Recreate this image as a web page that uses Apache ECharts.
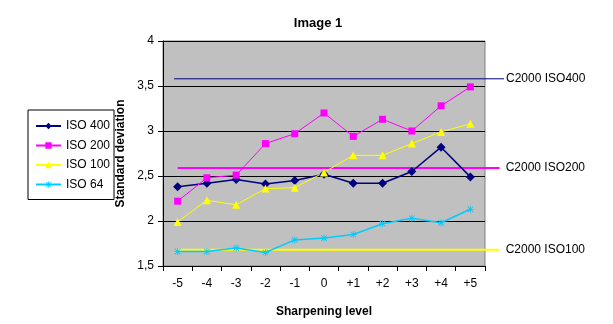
<!DOCTYPE html>
<html><head><meta charset="utf-8">
<script src="https://cdn.jsdelivr.net/npm/echarts@6/dist/echarts.min.js"></script>
<style>html,body{margin:0;padding:0;background:#fff}#c{width:613px;height:324px}</style>
</head><body><div id="c"></div>
<script>
var categories = ['-5','-4','-3','-2','-1','0','+1','+2','+3','+4','+5'];
var iso400 = [2.38,2.42,2.46,2.41,2.45,2.52,2.42,2.42,2.55,2.82,2.49];
var iso200 = [2.22,2.48,2.51,2.86,2.97,3.20,2.94,3.13,3.00,3.28,3.49];
var iso100 = [1.99,2.23,2.18,2.36,2.37,2.54,2.73,2.73,2.86,2.99,3.08];
var iso64  = [1.66,1.66,1.70,1.65,1.79,1.81,1.85,1.97,2.03,1.98,2.13];
var refNames = ['C2000 ISO400','C2000 ISO200','C2000 ISO100'];
var refValues = [3.58, 2.59, 1.68];
var yTicks = [1.5,2,2.5,3,3.5,4];

var font = 'Liberation Sans, Arial, sans-serif';
var chart = echarts.init(document.getElementById('c'));
var refColors = ['#000080','#ff00ff','#ffff00'];
var refWidths = [1,2,2];
var refStart = [-0.12, 0.0, 0.0];
var refEnd = [11.15, 11.0, 11.0];
var refLabelGap = [2, 6, 6];
var refSeries = refNames.map(function(n,i){
  return {
    name: n, type:'line', xAxisIndex:1, yAxisIndex:1, clip:false, symbol:'none', silent:true,
    data: [[refStart[i], refValues[i]], [refEnd[i], refValues[i]]],
    lineStyle:{color:refColors[i], width:refWidths[i]},
    itemStyle:{color:refColors[i]},
    endLabel:{show:true, formatter:n, color:'#000', fontFamily:font, fontSize:12, distance:refLabelGap[i]},
    z:3
  };
});
var starPath = 'path://M4.4,0L5.6,0L5.6,10L4.4,10Z M0,4.4L10,4.4L10,5.6L0,5.6Z M0.6,1.4L1.4,0.6L9.4,8.6L8.6,9.4Z M8.6,0.6L9.4,1.4L1.4,9.4L0.6,8.6Z';
chart.setOption({
  animation:false,
  backgroundColor:'#fff',
  title:{text:'Image 1', left:313, top:12, textAlign:'center',
    textStyle:{fontFamily:font, fontSize:13, fontWeight:'bold', color:'#000'}},
  legend:{
    data:['ISO 400','ISO 200','ISO 100','ISO 64'],
    orient:'vertical', left:28, top:110,
    borderColor:'#000', borderWidth:1, padding:[10,4,9,7],
    itemWidth:25, itemHeight:8, itemGap:7.5,
    textStyle:{fontFamily:font, fontSize:12, color:'#000'}
  },
  grid:[
    {left:163, top:41, width:322, height:225, show:true, backgroundColor:'#c0c0c0', borderColor:'#808080', borderWidth:1},
    {left:163, top:41, width:347, height:225, show:false}
  ],
  xAxis:[{
    type:'category', data:categories, boundaryGap:true, gridIndex:0,
    name:'Sharpening level', nameLocation:'middle', nameGap:40,
    nameTextStyle:{fontFamily:font, fontSize:12, fontWeight:'bold', color:'#000'},
    axisLine:{lineStyle:{color:'#000', width:1}},
    axisTick:{show:true, length:5, lineStyle:{color:'#000'}},
    axisLabel:{fontFamily:font, fontSize:12, color:'#000', margin:12}
  },{
    type:'value', gridIndex:1, min:-0.5, max:-0.5 + 347*11/322, show:false
  }],
  yAxis:[{
    type:'value', gridIndex:0, min:1.5, max:4, interval:0.5,
    name:'Standard deviation', nameLocation:'middle', nameGap:27, nameRotate:90,
    nameTextStyle:{fontFamily:font, fontSize:12, fontWeight:'bold', color:'#000'},
    axisLine:{show:true, onZero:false, lineStyle:{color:'#000', width:1}},
    axisTick:{show:true, length:5, lineStyle:{color:'#000'}},
    axisLabel:{fontFamily:font, fontSize:12, color:'#000', margin:9,
      formatter:function(v){ return yTicks.indexOf(v)>=0 ? String(v).replace('.',',') : ''; }},
    splitLine:{show:true, lineStyle:{color:'#000', width:1}}
  },{
    type:'value', gridIndex:1, min:1.5, max:4, show:false
  }],
  series: refSeries.concat([
    {name:'ISO 400', type:'line', data:iso400, symbol:'diamond', symbolSize:9,
      lineStyle:{color:'#000080', width:1.5}, itemStyle:{color:'#000080'}, z:5},
    {name:'ISO 200', type:'line', data:iso200, symbol:'rect', symbolSize:7,
      lineStyle:{color:'#ff00ff', width:1}, itemStyle:{color:'#ff00ff'}, z:5},
    {name:'ISO 100', type:'line', data:iso100, symbol:'triangle', symbolSize:8,
      lineStyle:{color:'#ffff00', width:1}, itemStyle:{color:'#ffff00'}, z:5},
    {name:'ISO 64', type:'line', data:iso64, symbol:starPath, symbolSize:7,
      lineStyle:{color:'#00ccff', width:1.5}, itemStyle:{color:'#00ccff'}, z:5}
  ])
});
</script></body></html>
